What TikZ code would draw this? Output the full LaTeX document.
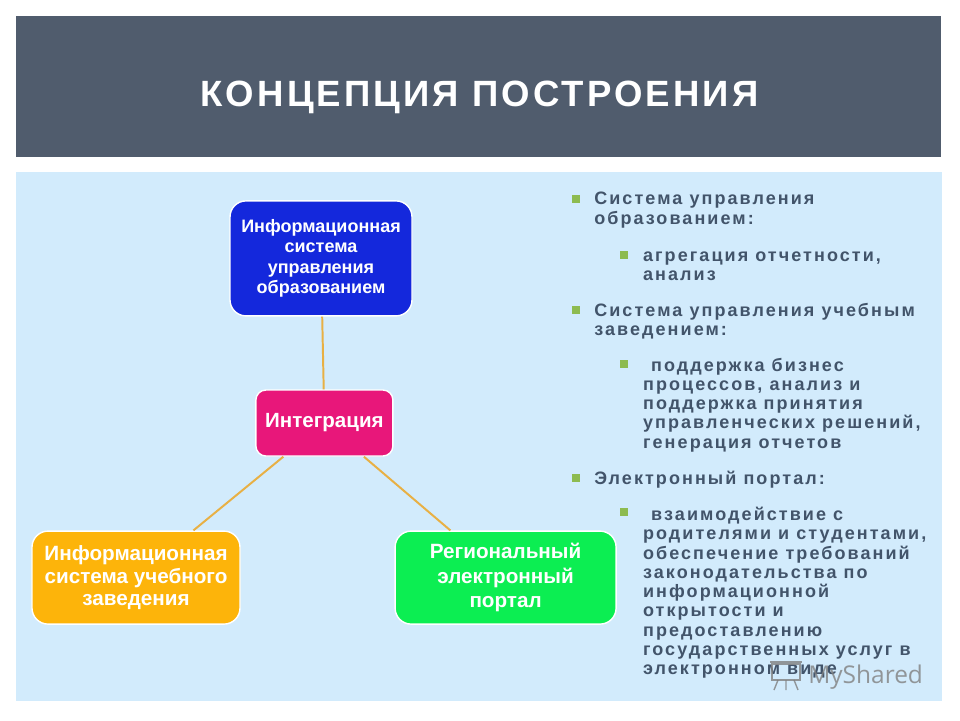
\documentclass[tikz,border=0pt]{standalone}
\usepackage{fontspec}
\setmainfont{Liberation Sans}
\newfontfamily\titlefont[LetterSpace=8.5]{Liberation Sans}
\newfontfamily\listfont[LetterSpace=11.5]{Liberation Sans}
\newfontfamily\markfont{Open Sans}
\definecolor{headgray}{HTML}{505C6D}
\definecolor{panelblue}{HTML}{D2EBFC}
\definecolor{listgray}{HTML}{42546A}
\definecolor{bulletgreen}{HTML}{8DBB50}
\definecolor{linkorange}{HTML}{E8B044}
\definecolor{infoblue}{HTML}{1428DC}
\definecolor{integpink}{HTML}{E8177A}
\definecolor{schoolorange}{HTML}{FDB40A}
\definecolor{portalgreen}{HTML}{0CEE52}
\tikzset{
  topicbox/.style={draw=white, line width=1pt, rounded corners=0.4cm, text=white, font=\bfseries\fontsize{12.8}{14.5}\selectfont, align=center, inner sep=0pt},
  linkline/.style={draw=linkorange, line width=1.4pt},
  bulletbox/.style={fill=bulletgreen, minimum size=0.2cm, inner sep=0pt},
  listtext/.style={anchor=north west, inner sep=0pt, align=left, text=listgray, font=\listfont\bfseries\fontsize{12.8}{13.72}\selectfont},
  markgray/.style={gray, opacity=0.8, line width=1pt}
}
\begin{document}
\begin{tikzpicture}
    \useasboundingbox (0,0) rectangle (24,18);
    \fill[headgray] (0.4,14.075) rectangle (23.525,17.6);
    \fill[panelblue] (0.4,0.475) rectangle (23.55,13.7);
    \node[text=white, font=\titlefont\bfseries\fontsize{26}{32}\selectfont] (title) at (11.99,15.56) {КОНЦЕПЦИЯ ПОСТРОЕНИЯ};

    % diagram on the left
    \node[topicbox, fill=infoblue, minimum width=4.55cm, minimum height=2.875cm] (infosys) at (8.025,11.54) {Информационная\\система\\управления\\образованием};
    \node[topicbox, fill=integpink, rounded corners=0.25cm, minimum width=3.425cm, minimum height=1.65cm, font=\bfseries\fontsize{14.6}{16}\selectfont] (integ) at (8.11,7.425) {\raisebox{-1pt}{Интеграция}};
    \node[topicbox, fill=schoolorange, minimum width=5.2cm, minimum height=2.325cm, font=\bfseries\fontsize{14.7}{16.3}\selectfont] (school) at (3.4,3.56) {\raisebox{-1pt}{Информационная}\\\raisebox{-1pt}{система учебного}\\\raisebox{-1pt}{заведения}};
    \node[topicbox, fill=portalgreen, minimum width=5.525cm, minimum height=2.325cm, font=\bfseries\fontsize{14.7}{17.3}\selectfont] (portal) at (12.64,3.56) {\raisebox{-1pt}{Региональный}\\\raisebox{-1pt}{электронный}\\\raisebox{-1pt}{портал}};
    \draw[linkline] (infosys) -- (integ);
    \draw[linkline] (integ) -- (school);
    \draw[linkline] (integ) -- (portal);

    % list on the right
    \node[bulletbox] (b1) at (14.4,13.03) {};
    \node[listtext] (t1) at (14.85,13.2) {Система управления\\образованием:};
    \node[bulletbox] (b2) at (15.6,11.63) {};
    \node[listtext] (t2) at (16.07,11.71) {агрегация отчетности,\\анализ};
    \node[bulletbox] (b3) at (14.4,10.25) {};
    \node[listtext] (t3) at (14.85,10.43) {Система управления учебным\\заведением:};
    \node[bulletbox] (b4) at (15.6,8.9) {};
    \node[listtext] (t4) at (16.07,9.06) {\hspace{0.2cm}поддержка бизнес\\процессов, анализ и\\поддержка принятия\\управленческих решений,\\генерация отчетов};
    \node[bulletbox] (b5) at (14.4,6.05) {};
    \node[listtext] (t5) at (14.85,6.22) {Электронный портал:};
    \node[bulletbox] (b6) at (15.6,5.2) {};
    \node[listtext] (t6) at (16.07,5.33) {\hspace{0.2cm}взаимодействие с\\родителями и студентами,\\обеспечение требований\\законодательства по\\информационной\\открытости и\\предоставлению\\государственных услуг в\\электронном виде};

    % watermark
    \draw[markgray] (19.3,1.0) rectangle (20.0,1.4);
    \draw[markgray] (19.25,1.45) -- (20.05,1.45);
    \draw[markgray] (19.45,1.0) -- (19.35,0.75) (19.65,1.0) -- (19.65,0.75) (19.85,1.0) -- (19.95,0.75);
    \node[text=gray, opacity=0.8, font=\markfont\fontsize{17.4}{20}\selectfont, anchor=west, inner sep=0pt] (mark) at (20.2,1.08) {MyShared};
\end{tikzpicture}
\end{document}
